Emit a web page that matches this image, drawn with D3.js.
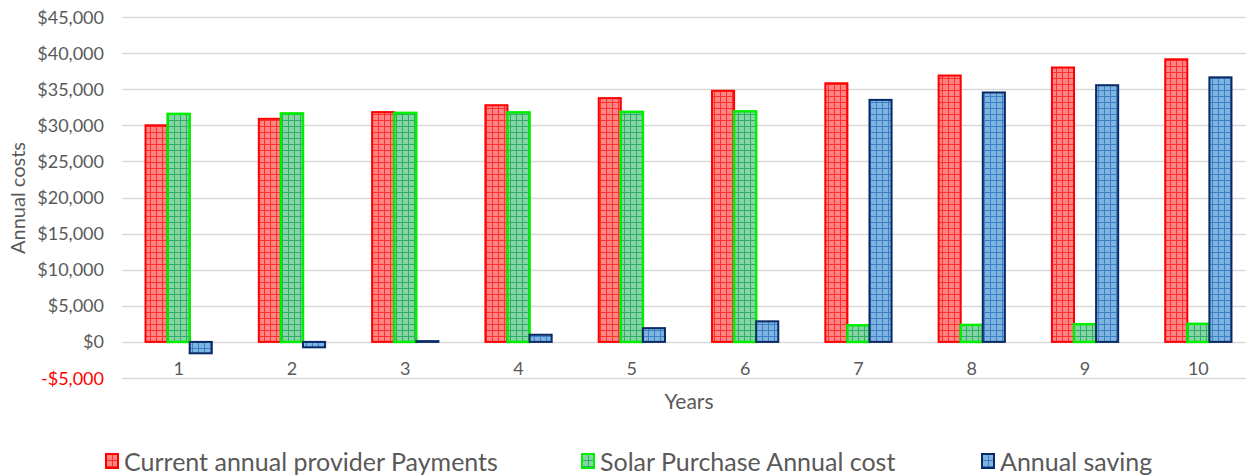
<!DOCTYPE html>
<html>
<head>
<meta charset="utf-8">
<script src="https://cdn.jsdelivr.net/npm/d3@7"></script>
<style>
  body { margin: 0; background: #fff; }
  text { font-family: Lato, "Open Sans", sans-serif; }
</style>
</head>
<body>
<svg width="1248" height="475"></svg>
<script>
// data
var years = ['1', '2', '3', '4', '5', '6', '7', '8', '9', '10'];
var providerPayments = [30000, 30900, 31827, 32782, 33765, 34778, 35822, 36896, 38003, 39143];
var solarCost = [31580, 31650, 31720, 31790, 31860, 31930, 2300, 2350, 2450, 2500];
var annualSaving = [-1580, -750, 107, 992, 1905, 2848, 33522, 34546, 35553, 36643];
var seriesNames = ['Current annual provider Payments', 'Solar Purchase Annual cost', 'Annual saving'];
var yTicks = [-5000, 0, 5000, 10000, 15000, 20000, 25000, 30000, 35000, 40000, 45000];

var styles = [
  { id: 'pRed', bg: '#ff8484', line: '#ff1a1a', stroke: '#ff0000', sw: 2 },
  { id: 'pGreen', bg: '#86d6a4', line: '#1aa05a', stroke: '#00ee00', sw: 2.5 },
  { id: 'pBlue', bg: '#7fb3e0', line: '#2a72c0', stroke: '#0a2a66', sw: 2 }
];

var svg = d3.select('svg');

// patterns (small grid)
var defs = svg.append('defs');
styles.forEach(function(s) {
  var p = defs.append('pattern')
    .attr('id', s.id)
    .attr('patternUnits', 'userSpaceOnUse')
    .attr('width', 6).attr('height', 6);
  p.append('rect').attr('width', 6).attr('height', 6).attr('fill', s.bg);
  p.append('path').attr('d', 'M0,0.5H6M0.5,0V6')
    .attr('stroke', s.line).attr('stroke-width', 1).attr('opacity', 0.8);
});

var left = 122, right = 1255, gridEnd = 1246;
var y = d3.scaleLinear().domain([-5000, 45000]).range([378, 17]);
var x = d3.scaleBand().domain(years).range([left, right]);
var groupW = x.bandwidth() / 1.71;
var xs = d3.scaleBand().domain([0, 1, 2]).range([0, groupW]);

// gridlines
svg.append('g').selectAll('line')
  .data(yTicks)
  .enter().append('line')
  .attr('x1', left).attr('x2', gridEnd)
  .attr('y1', function(d) { return Math.round(y(d)) + 0.5; })
  .attr('y2', function(d) { return Math.round(y(d)) + 0.5; })
  .attr('stroke', '#d9d9d9').attr('stroke-width', 1.5);

// y labels
svg.append('g').selectAll('text')
  .data(yTicks)
  .enter().append('text')
  .attr('x', 104)
  .attr('y', function(d) { return y(d) + 6.5; })
  .attr('text-anchor', 'end')
  .attr('font-size', 18)
  .attr('fill', function(d) { return d < 0 ? '#ff0000' : '#595959'; })
  .text(function(d) {
    return (d < 0 ? '-$' : '$') + d3.format(',')(Math.abs(d));
  });

// bars
var allSeries = [providerPayments, solarCost, annualSaving];
allSeries.forEach(function(vals, si) {
  var s = styles[si];
  svg.append('g').selectAll('rect')
    .data(vals)
    .enter().append('rect')
    .attr('x', function(d, i) {
      return x(years[i]) + (x.bandwidth() - groupW) / 2 + xs(si);
    })
    .attr('y', function(d) { return y(Math.max(0, d)); })
    .attr('width', xs.bandwidth())
    .attr('height', function(d) { return Math.abs(y(d) - y(0)); })
    .attr('fill', 'url(#' + s.id + ')')
    .attr('stroke', s.stroke)
    .attr('stroke-width', s.sw);
});

// category labels
svg.append('g').selectAll('text')
  .data(years)
  .enter().append('text')
  .attr('x', function(d) { return x(d) + x.bandwidth() / 2; })
  .attr('y', 375)
  .attr('text-anchor', 'middle')
  .attr('font-size', 18)
  .attr('fill', '#595959')
  .text(function(d) { return d; });

// axis titles
svg.append('text')
  .attr('x', 689).attr('y', 409)
  .attr('text-anchor', 'middle')
  .attr('font-size', 21)
  .attr('fill', '#595959')
  .text('Years');

svg.append('text')
  .attr('transform', 'translate(25,198) rotate(-90)')
  .attr('text-anchor', 'middle')
  .attr('font-size', 20)
  .attr('fill', '#595959')
  .text('Annual costs');

// legend
var legendX = [106, 582, 982];
var lg = svg.append('g').selectAll('g')
  .data(seriesNames)
  .enter().append('g')
  .attr('transform', function(d, i) { return 'translate(' + legendX[i] + ',454)'; });
lg.append('rect')
  .attr('width', 12).attr('height', 14)
  .attr('fill', function(d, i) { return 'url(#' + styles[i].id + ')'; })
  .attr('stroke', function(d, i) { return styles[i].stroke; })
  .attr('stroke-width', 2);
lg.append('text')
  .attr('x', 18).attr('y', 17)
  .attr('font-size', 25)
  .attr('fill', '#595959')
  .text(function(d) { return d; });
</script>
</body>
</html>
